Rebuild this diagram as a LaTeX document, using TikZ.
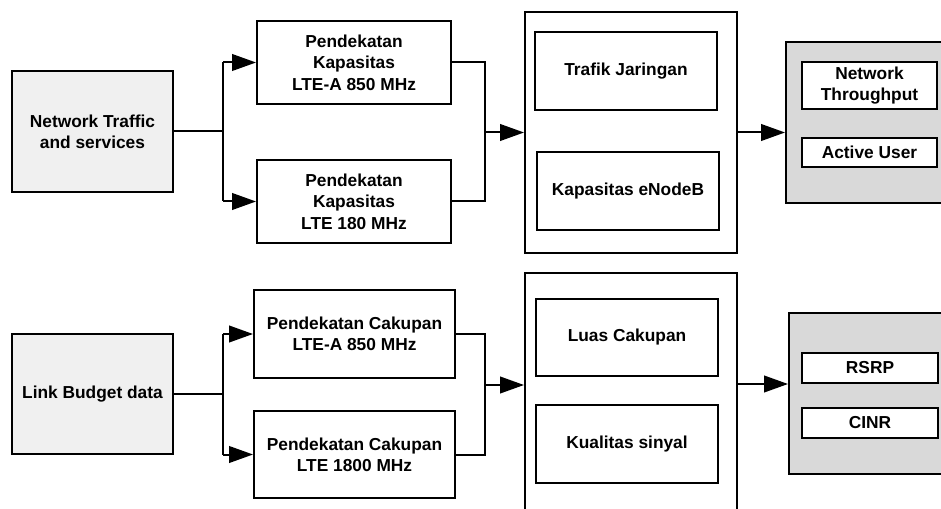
\documentclass[tikz,border=0pt]{standalone}
\usepackage{fontspec}
\setmainfont{Liberation Sans}
\usetikzlibrary{arrows.meta,calc}
\begin{document}
\begin{tikzpicture}[x=0.75pt,y=-0.75pt,
  box/.style={draw=black,line width=1.5pt,fill=white,align=center,inner sep=0pt,
    font=\fontsize{13}{16}\selectfont\bfseries},
  src/.style={box,fill=gray!12},
  res/.style={draw=black,line width=1.5pt,fill=gray!30,inner sep=0pt},
  conn/.style={line width=1.5pt},
  arr/.style={line width=1.5pt,-{Triangle[length=18pt,width=12.5pt]}}]
\useasboundingbox (0,0) rectangle (941,509);
\clip (0,0) rectangle (941,509);
% ---------- top row ----------
\node[src,minimum width=120.75pt,minimum height=90.75pt] (nt) at (92.5,131.5) {Network Traffic\\and services};
\node[box,minimum width=145.5pt,minimum height=62.25pt] (a1) at (354,62.5) {Pendekatan\\Kapasitas\\LTE-A 850 MHz};
\node[box,minimum width=145.5pt,minimum height=62.25pt] (a2) at (354,201.5) {Pendekatan\\Kapasitas\\LTE 180 MHz};
\node[box,minimum width=159pt,minimum height=180.75pt] (big1) at (631,132.5) {};
\node[box,minimum width=136.5pt,minimum height=58.5pt] (tj) at (626,71) {Trafik Jaringan};
\node[box,minimum width=136.5pt,minimum height=58.5pt] (ke) at (628,191) {Kapasitas eNodeB};
\node[res,minimum width=126.75pt,minimum height=120.75pt] (g1) at (870.5,122.5) {};
\node[box,minimum width=101.25pt,minimum height=35.25pt] (nth) at (869.5,85.5) {Network\\Throughput};
\node[box,minimum width=101.25pt,minimum height=21.75pt] (au) at (869.5,152.5) {Active User};
\coordinate (s1) at (223,131.5);
\coordinate (j1) at (485,132.5);
\draw[conn] (nt.east) -- (s1);
\draw[conn] (s1 |- a1.west) -- (s1 |- a2.west);
\draw[arr] (s1 |- a1.west) -- (a1.west);
\draw[arr] (s1 |- a2.west) -- (a2.west);
\draw[conn] (a1.east) -- (j1 |- a1.east) -- (j1 |- a2.east) -- (a2.east);
\draw[arr] (j1) -- (j1 -| big1.west);
\draw[arr] (big1.east) -- (big1.east -| g1.west);
% ---------- bottom row ----------
\node[src,minimum width=120.75pt,minimum height=90pt] (lb) at (92.5,394) {Link Budget data};
\node[box,minimum width=150.75pt,minimum height=66pt] (c1) at (354.5,334) {Pendekatan Cakupan\\LTE-A 850 MHz};
\node[box,minimum width=150.75pt,minimum height=65.25pt] (c2) at (354.5,454.5) {Pendekatan Cakupan\\LTE 1800 MHz};
\node[box,minimum width=159pt,minimum height=185.25pt] (big2) at (631,396.5) {};
\node[box,minimum width=136.5pt,minimum height=57.75pt] (lc) at (627,337.5) {Luas Cakupan};
\node[box,minimum width=136.5pt,minimum height=58.5pt] (ks) at (627,444) {Kualitas sinyal};
\node[res,minimum width=124.5pt,minimum height=120.75pt] (g2) at (872,393.5) {};
\node[box,minimum width=102pt,minimum height=22.5pt] (rsrp) at (870,368) {RSRP};
\node[box,minimum width=102pt,minimum height=22.5pt] (cinr) at (870,423) {CINR};
\coordinate (s2) at (223,394);
\coordinate (j2) at (485,385);
\coordinate (o2) at (737,384);
\draw[conn] (lb.east) -- (s2);
\draw[conn] (s2 |- c1.west) -- (s2 |- c2.west);
\draw[arr] (s2 |- c1.west) -- (c1.west);
\draw[arr] (s2 |- c2.west) -- (c2.west);
\draw[conn] (c1.east) -- (j1 |- c1.east) -- (j1 |- c2.east) -- (c2.east);
\draw[arr] (j2) -- (j2 -| big2.west);
\draw[arr] (o2) -- (o2 -| g2.west);
\end{tikzpicture}
\end{document}
